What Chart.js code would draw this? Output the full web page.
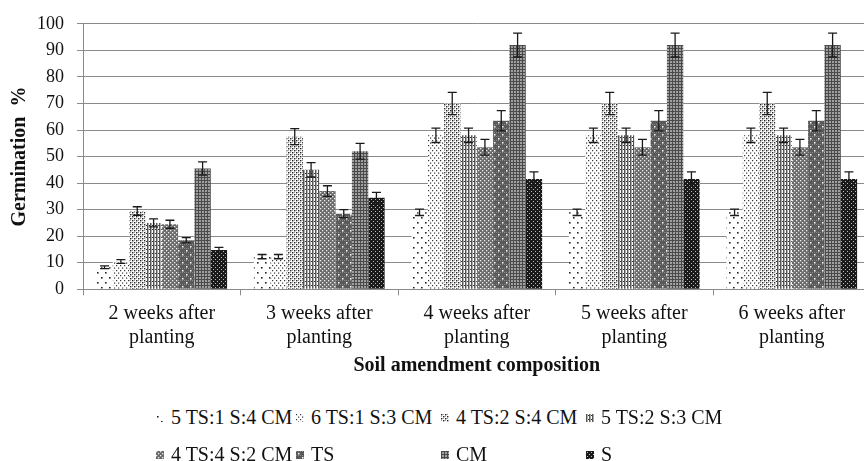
<!DOCTYPE html>
<html>
<head>
<meta charset="utf-8">
<script src="https://cdn.jsdelivr.net/npm/chart.js@4"></script>
<style>
  html, body { margin: 0; padding: 0; background: #fff; width: 864px; height: 461px; overflow: hidden; }
  #wrap { position: relative; width: 872px; height: 461px; }
  #c { position: absolute; left: 0; top: 0; }
  #legend {
    position: absolute; left: 156px; top: 399px;
    display: grid; grid-template-columns: 140px 145px 145px 150px; grid-auto-rows: 37px;
    font-family: "Times New Roman", "Liberation Serif", "DejaVu Serif", serif; font-size: 20px; color: #111;
  }
  .item { display: flex; align-items: center; white-space: nowrap; }
  .item canvas { width: 8px; height: 8px; margin-right: 7px; }
</style>
</head>
<body>
<div id="wrap">
  <canvas id="c" width="872" height="380"></canvas>
  <div id="legend"></div>
</div>
<script>
// categories (two-line tick labels)
let categories = [
    ["2 weeks after", "planting"],
    ["3 weeks after", "planting"],
    ["4 weeks after", "planting"],
    ["5 weeks after", "planting"],
    ["6 weeks after", "planting"]
];

let seriesNames = ["5 TS:1 S:4 CM", "6 TS:1 S:3 CM", "4 TS:2 S:4 CM", "5 TS:2 S:3 CM",
                   "4 TS:4 S:2 CM", "TS", "CM", "S"];

// germination % per series
let ts5s1cm4 = [8.3, 12.3, 29, 29, 29];
let ts6s1cm3 = [10.5, 12.3, 58, 58, 58];
let ts4s2cm4 = [29.5, 57.5, 70, 70, 70];
let ts5s2cm3 = [25, 45, 58, 58, 58];
let ts4s4cm2 = [24.5, 37, 53.5, 53.5, 53.5];
let tsOnly   = [18.5, 28.5, 63.5, 63.5, 63.5];
let cmOnly   = [45.5, 52, 92, 92, 92];
let sOnly    = [14.8, 34.5, 41.5, 41.5, 41.5];

// error (+/-) per series
let err1 = [0.5, 0.8, 1.2, 1.2, 1.2];
let err2 = [0.7, 0.8, 2.7, 2.7, 2.7];
let err3 = [1.6, 3, 4.2, 4.2, 4.2];
let err4 = [1.5, 2.7, 2.7, 2.7, 2.7];
let err5 = [1.5, 2, 3, 3, 3];
let err6 = [1, 1.5, 3.8, 3.8, 3.8];
let err7 = [2.5, 3, 4.5, 4.5, 4.5];
let err8 = [1, 2, 2.7, 2.7, 2.7];

let yTicks = { min: 0, max: 100, step: 10 };

let values = [ts5s1cm4, ts6s1cm3, ts4s2cm4, ts5s2cm3, ts4s4cm2, tsOnly, cmOnly, sOnly];
let errors = [err1, err2, err3, err4, err5, err6, err7, err8];

const FONT = "'Times New Roman', 'Liberation Serif', 'DejaVu Serif', serif";

// fill patterns, roughly like the excel ones
function tile(w, h, bg, draw){
    let c = document.createElement("canvas");
    c.width = w; c.height = h;
    let g = c.getContext("2d");
    g.fillStyle = bg; g.fillRect(0, 0, w, h);
    draw(g);
    return c;
}
function px(g, col, pts, s){
    g.fillStyle = col;
    pts.forEach(p => g.fillRect(p[0], p[1], s || 1, s || 1));
}

let tiles = [
    tile(8, 10, "#fff", g => px(g, "#222", [[1,2],[5,7]], 1.6)),
    tile(4, 5, "#fff", g => px(g, "#333", [[0,0],[2,2.5]], 1.2)),
    tile(4, 4, "#fff", g => { px(g, "#222", [[0,0],[2,2]], 1.4); px(g, "#999", [[2,0],[0,2]], 1); }),
    tile(3, 4, "#fff", g => { g.fillStyle = "#555"; g.fillRect(0,0,1,4); g.fillStyle = "#aaa"; g.fillRect(1,0,1,4); px(g, "#333", [[2,1]], 1); }),
    tile(4, 4, "#6a6a6a", g => px(g, "#eee", [[0,0],[2,2]], 1.3)),
    tile(8, 8, "#5a5a5a", g => { px(g, "#888", [[0,0],[2,0],[4,0],[6,0],[0,4],[2,4],[4,4],[6,4]], 1); px(g, "#fff", [[2,2],[6,6]], 1.5); }),
    tile(3, 3, "#a0a0a0", g => { g.fillStyle = "#4a4a4a"; g.fillRect(0,0,3,1); g.fillRect(0,0,1,3); }),
    tile(4, 4, "#1a1a1a", g => px(g, "#bbb", [[1,1],[3,3]], 1))
];

let ctx = document.getElementById("c").getContext("2d");
let patterns = tiles.map(t => ctx.createPattern(t, "repeat"));

// error bars with caps
const errorBars = {
    id: "errorBars",
    afterDatasetsDraw(chart){
        let c = chart.ctx, y = chart.scales.y;
        c.save();
        c.strokeStyle = "#1a1a1a";
        c.lineWidth = 1.3;
        chart.data.datasets.forEach((ds, i) => {
            chart.getDatasetMeta(i).data.forEach((bar, j) => {
                let v = ds.data[j], e = ds.errors[j];
                let top = y.getPixelForValue(v + e), bot = y.getPixelForValue(v - e);
                c.beginPath();
                c.moveTo(bar.x, top); c.lineTo(bar.x, bot);
                c.moveTo(bar.x - 4.5, top); c.lineTo(bar.x + 4.5, top);
                c.moveTo(bar.x - 4.5, bot); c.lineTo(bar.x + 4.5, bot);
                c.stroke();
            });
        });
        c.restore();
    }
};

new Chart(ctx, {
    type: "bar",
    data: {
        labels: categories,
        datasets: values.map((v, i) => ({
            label: seriesNames[i],
            data: v,
            errors: errors[i],
            backgroundColor: patterns[i],
            borderWidth: 0,
            categoryPercentage: 0.83,
            barPercentage: 1
        }))
    },
    options: {
        responsive: false,
        animation: false,
        layout: { padding: { top: 23.3, right: 1.5, left: 0, bottom: 0 } },
        plugins: { legend: { display: false }, tooltip: { enabled: false } },
        scales: {
            x: {
                grid: { display: true, drawOnChartArea: false, drawTicks: true, tickLength: 6, color: "#8a8a8a", offset: true },
                border: { display: true, color: "#8a8a8a" },
                ticks: { font: { family: FONT, size: 20 }, color: "#111", padding: 6, maxRotation: 0, autoSkip: false },
                title: { display: true, text: "Soil amendment composition", color: "#111",
                         font: { family: FONT, size: 20, weight: "bold" }, padding: { top: 0, bottom: 2 } },
                afterFit(s){ s.height = 90.7; }
            },
            y: {
                min: yTicks.min, max: yTicks.max,
                grid: { color: "#8a8a8a", tickLength: 6 },
                border: { display: true, color: "#8a8a8a" },
                ticks: { stepSize: yTicks.step, font: { family: FONT, size: 18 }, color: "#111", padding: 13 },
                title: { display: true, text: "Germination  %", color: "#111",
                         font: { family: FONT, size: 20, weight: "bold" }, padding: { top: 8, bottom: 0 } },
                afterFit(s){ s.width = 83; }
            }
        }
    },
    plugins: [errorBars]
});

// legend in excel's grid order
let leg = document.getElementById("legend");
seriesNames.forEach((name, i) => {
    let item = document.createElement("div");
    item.className = "item";
    let sw = document.createElement("canvas");
    sw.width = 8; sw.height = 8;
    let g = sw.getContext("2d");
    g.fillStyle = g.createPattern(tiles[i], "repeat");
    g.fillRect(0, 0, 8, 8);
    let t = document.createElement("span");
    t.textContent = name;
    item.appendChild(sw); item.appendChild(t);
    leg.appendChild(item);
});
</script>
</body>
</html>
